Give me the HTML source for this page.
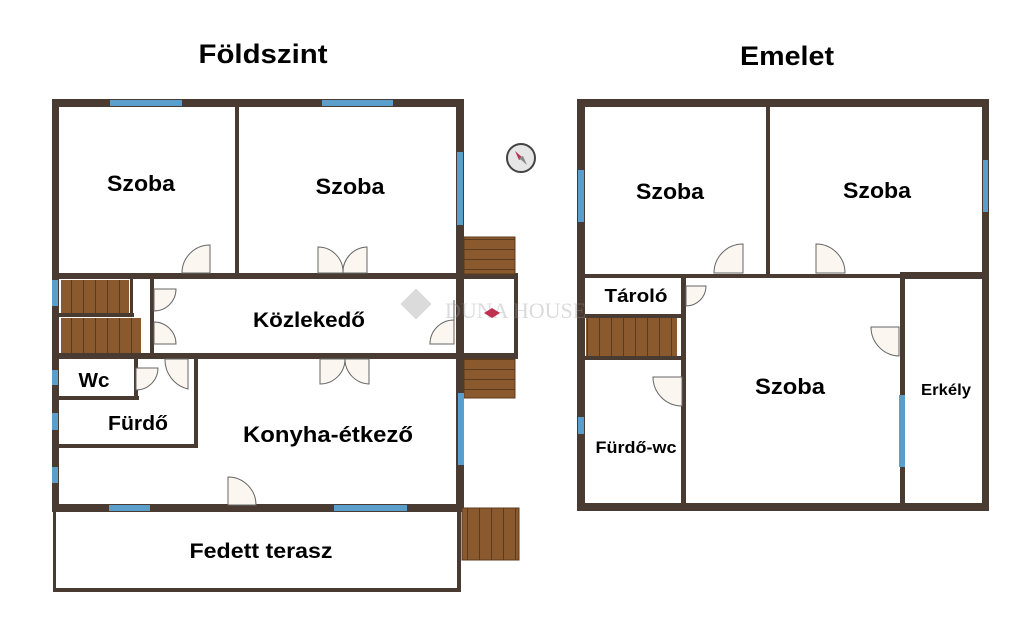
<!DOCTYPE html>
<html><head><meta charset="utf-8"><style>
html,body{margin:0;padding:0;background:#fff;width:1024px;height:620px;overflow:hidden}
svg text{font-family:"Liberation Sans",Arial,sans-serif;font-weight:bold;fill:#000}
</style></head><body>
<svg width="1024" height="620" viewBox="0 0 1024 620" xmlns="http://www.w3.org/2000/svg">
<defs>
<pattern id="st" width="12" height="10" patternUnits="userSpaceOnUse"><rect width="12" height="10" fill="#8a5a2e"/><rect x="11" width="1" height="10" fill="#5c3a1c"/></pattern>
<pattern id="sh" width="10" height="10" patternUnits="userSpaceOnUse"><rect width="10" height="10" fill="#8a5a2e"/><rect y="9" width="10" height="1" fill="#5c3a1c"/></pattern>
</defs>
<g fill="#4a3b32">
<rect x="52" y="99" width="412" height="8"/>
<rect x="52" y="99" width="7" height="412"/>
<rect x="456" y="99" width="8" height="412"/>
<rect x="52" y="504" width="412" height="8"/>
<rect x="235" y="107" width="4" height="168"/>
<rect x="52" y="273" width="466" height="6"/>
<rect x="52" y="353" width="466" height="6"/>
<rect x="150" y="279" width="4" height="76"/>
<rect x="59" y="313" width="75" height="4"/>
<rect x="130" y="279" width="3" height="36"/>
<rect x="59" y="396" width="80" height="4"/>
<rect x="134" y="359" width="4" height="40"/>
<rect x="59" y="444" width="138" height="4"/>
<rect x="194" y="359" width="4" height="89"/>
<rect x="514" y="275" width="4" height="83"/>
<rect x="53" y="511" width="3" height="80"/>
<rect x="457" y="511" width="4" height="80"/>
<rect x="53" y="588" width="408" height="4"/>
<rect x="577" y="99" width="412" height="8"/>
<rect x="577" y="99" width="8" height="412"/>
<rect x="982" y="99" width="7" height="412"/>
<rect x="577" y="503" width="412" height="8"/>
<rect x="766" y="107" width="4" height="170"/>
<rect x="577" y="274" width="330" height="4"/>
<rect x="900" y="272" width="89" height="7"/>
<rect x="900" y="272" width="5" height="235"/>
<rect x="681" y="276" width="5" height="230"/>
<rect x="585" y="314" width="96" height="4"/>
<rect x="585" y="356" width="96" height="4"/>
</g>
<rect x="61" y="280" width="68" height="33" fill="url(#st)"/>
<rect x="61" y="318" width="80" height="35" fill="url(#st)"/>
<rect x="464" y="237" width="51" height="37" fill="url(#sh)" stroke="#5c3a1c"/>
<rect x="464" y="359" width="51" height="39" fill="url(#sh)" stroke="#5c3a1c"/>
<rect x="462" y="508" width="57" height="52" fill="url(#st)" stroke="#5c3a1c"/>
<rect x="586" y="318" width="91" height="38" fill="url(#st)"/>
<g fill="#5a9fcb">
<rect x="110" y="100" width="72" height="6"/><rect x="322" y="100" width="71" height="6"/>
<rect x="457" y="152" width="6" height="73"/><rect x="458" y="393" width="6" height="72"/>
<rect x="52" y="280" width="6" height="26"/><rect x="52" y="370" width="6" height="15"/>
<rect x="52" y="413" width="6" height="17"/><rect x="52" y="467" width="6" height="16"/>
<rect x="109" y="505" width="41" height="6"/><rect x="334" y="505" width="73" height="6"/>
<rect x="578" y="170" width="6" height="52"/><rect x="983" y="160" width="5" height="52"/>
<rect x="578" y="417" width="6" height="17"/><rect x="899" y="395" width="6" height="72"/>
</g>
<g fill="#fbf6ef" stroke="#666" stroke-width="1">
<path d="M210 245 L210 273 L182 273 A28 28 0 0 1 210 245Z"/>
<path d="M318 247 L318 273 L343 273 A25 25 0 0 0 318 247Z"/><path d="M367 247 L367 273 L343 273 A25 25 0 0 1 367 247Z"/>
<path d="M154 289 L176 289 A22 22 0 0 1 154 311Z"/>
<path d="M154 322 A22 22 0 0 1 176 344 L154 344Z"/>
<path d="M454 300 L454 344 L430 344 A24 24 0 0 1 454 320Z"/>
<path d="M320 359 L320 384 A25 25 0 0 0 345 359Z"/><path d="M369 359 L369 384 A25 25 0 0 1 345 359Z"/>
<path d="M136 368 L158 368 A22 22 0 0 1 136 390Z"/>
<path d="M165 359 L188 359 L188 389 A30 30 0 0 1 165 359Z"/>
<path d="M228 477 A28 28 0 0 1 256 505 L228 505Z"/>
<path d="M743 244 L743 273 L714 273 A29 29 0 0 1 743 244Z"/>
<path d="M816 244 A29 29 0 0 1 845 273 L816 273Z"/>
<path d="M686 286 L706 286 A20 20 0 0 1 686 306Z"/>
<path d="M899 327 L899 356 A29 29 0 0 1 871 327Z"/>
<path d="M682 377 L682 406 A29 29 0 0 1 653 377Z"/>
</g>
<circle cx="521" cy="158" r="14" fill="#e6e6e6" stroke="#444" stroke-width="2"/>
<path d="M515 151 L523 158 L519 160Z" fill="#c03050"/><path d="M527 165 L519 158 L523 156Z" fill="#888"/>
<g opacity="0.35"><rect x="405" y="293" width="22" height="22" transform="rotate(45 416 304)" fill="#999"/>
<text x="445" y="318" font-size="22" style="font-family:'Liberation Serif',serif;font-weight:normal;fill:#999">DUNA HOUSE</text></g>
<path d="M484 313 L492 308 L500 313 L492 318Z" fill="#c03050"/>
<text x="263" y="63" font-size="27" text-anchor="middle" textLength="129" lengthAdjust="spacingAndGlyphs">Földszint</text>
<text x="787" y="65" font-size="27" text-anchor="middle" textLength="94" lengthAdjust="spacingAndGlyphs">Emelet</text>
<text x="141" y="191" font-size="22" text-anchor="middle" textLength="68" lengthAdjust="spacingAndGlyphs">Szoba</text>
<text x="350" y="194" font-size="22" text-anchor="middle" textLength="69" lengthAdjust="spacingAndGlyphs">Szoba</text>
<text x="309" y="327" font-size="21" text-anchor="middle" textLength="112" lengthAdjust="spacingAndGlyphs">Közlekedő</text>
<text x="94" y="387" font-size="20" text-anchor="middle" textLength="31" lengthAdjust="spacingAndGlyphs">Wc</text>
<text x="138" y="430" font-size="20" text-anchor="middle" textLength="60" lengthAdjust="spacingAndGlyphs">Fürdő</text>
<text x="328" y="442" font-size="22" text-anchor="middle" textLength="170" lengthAdjust="spacingAndGlyphs">Konyha-étkező</text>
<text x="261" y="558" font-size="21" text-anchor="middle" textLength="143" lengthAdjust="spacingAndGlyphs">Fedett terasz</text>
<text x="670" y="199" font-size="22" text-anchor="middle" textLength="68" lengthAdjust="spacingAndGlyphs">Szoba</text>
<text x="877" y="198" font-size="22" text-anchor="middle" textLength="68" lengthAdjust="spacingAndGlyphs">Szoba</text>
<text x="636" y="302" font-size="18" text-anchor="middle" textLength="63" lengthAdjust="spacingAndGlyphs">Tároló</text>
<text x="790" y="394" font-size="22" text-anchor="middle" textLength="70" lengthAdjust="spacingAndGlyphs">Szoba</text>
<text x="946" y="395" font-size="16" text-anchor="middle" textLength="50" lengthAdjust="spacingAndGlyphs">Erkély</text>
<text x="636" y="453" font-size="17" text-anchor="middle" textLength="81" lengthAdjust="spacingAndGlyphs">Fürdő-wc</text>
</svg>
</body></html>
